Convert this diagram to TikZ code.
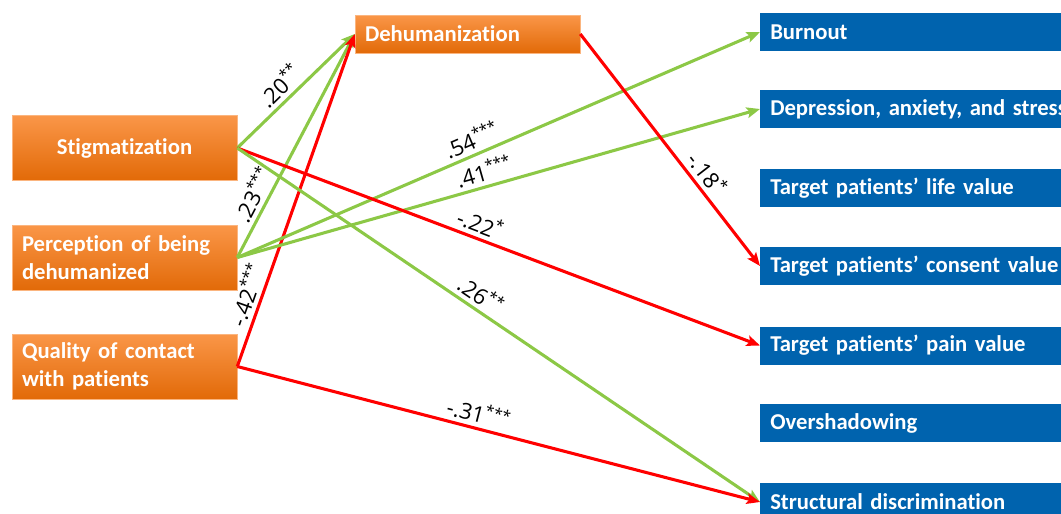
\documentclass[tikz,border=0pt]{standalone}
\usepackage{fontspec}
\setmainfont{Carlito}[Ligatures=NoCommon]
\newfontfamily\coeffont{Open Sans}
\usetikzlibrary{arrows.meta}

\definecolor{boxtop}{RGB}{250,150,72}
\definecolor{boxbot}{RGB}{226,106,8}
\definecolor{outblue}{RGB}{0,99,174}
\definecolor{posgreen}{RGB}{140,200,70}
\definecolor{negred}{RGB}{255,0,0}

\tikzset{
  predictor/.style={draw=boxtop!70!white, top color=boxtop, bottom color=boxbot,
    minimum width=168.75pt, minimum height=48.75pt, text width=153.75pt, inner xsep=7.5pt,
    align=left, text=white, font=\bfseries\fontsize{17}{21}\selectfont},
  outcome/.style={fill=outblue, anchor=west, minimum width=247.5pt, minimum height=28.5pt,
    text width=232.5pt, inner xsep=7.5pt, align=left, text=white,
    font=\bfseries\fontsize{17}{21}\selectfont},
  greenpath/.style={posgreen, line width=2.3pt, ->},
  redpath/.style={negred, line width=2.3pt, ->},
  coef/.style={font=\coeffont\fontsize{16.5}{18}\selectfont, text=black, sloped, above, inner sep=3pt}
}

\begin{document}
\begin{tikzpicture}[x=0.75pt,y=-0.75pt,>={Stealth[length=10pt,width=8pt,inset=2pt]}]
\useasboundingbox (0,0) rectangle (1061,514);
\clip (0,0) rectangle (1061,514);
% predictors
\node[predictor,align=center] (stig) at (124.5,148) {Stigmatization};
\node[predictor] (perc) at (124.5,257.5) {Perception of being\\dehumanized};
\node[predictor] (qual) at (124.5,366.5) {Quality of contact\\with patients};
\node[predictor,minimum height=28.5pt] (dehum) at (467.5,34) {Dehumanization};
% outcomes
\foreach \name/\y/\txt in {burn/32/Burnout, dep/109/{Depression, anxiety, and stress},
  life/188/{Target patients’ life value}, cons/266/{Target patients’ consent value},
  pain/345.5/{Target patients’ pain value}, over/423/Overshadowing,
  struc/502/{Structural discrimination}}
  \node[outcome] (\name) at (760,\y) {\txt};
% paths
\draw[greenpath] (stig.east) -- node[coef,pos=0.45] {.20\textsuperscript{**}} (dehum.west);
\draw[greenpath] (perc.east) -- node[coef,pos=0.25] {.23\textsuperscript{***}} (dehum.west);
\draw[redpath] (qual.east) -- node[coef,pos=0.2] {-.42\textsuperscript{***}} (dehum.west);
\draw[greenpath] (perc.east) -- node[coef,pos=0.46] {.54\textsuperscript{***}} (burn.west);
\draw[greenpath] (perc.east) -- node[coef,pos=0.48] {.41\textsuperscript{***}} (dep.west);
\draw[redpath] (stig.east) -- node[coef,pos=0.455] {-.22\textsuperscript{*}} (pain.west);
\draw[greenpath] (stig.east) -- node[coef,pos=0.45] {.26\textsuperscript{**}} (struc.west);
\draw[redpath] (qual.east) -- node[coef,pos=0.455] {-.31\textsuperscript{***}} (struc.west);
\draw[redpath] (dehum.east) -- node[coef,pos=0.64] {-.18\textsuperscript{*}} (cons.west);
\end{tikzpicture}
\end{document}
